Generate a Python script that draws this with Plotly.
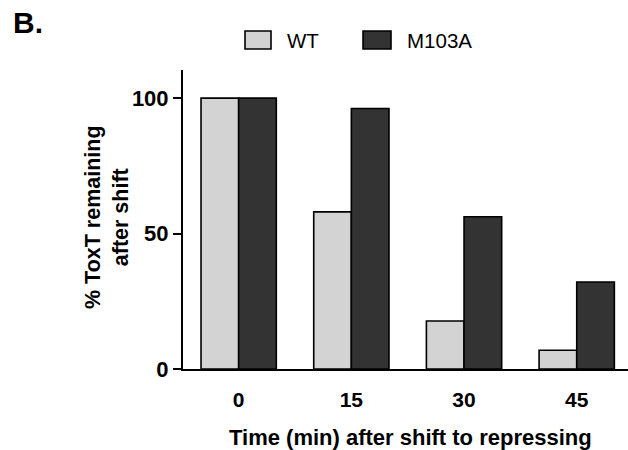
import plotly.graph_objects as go

# ---- data ----
time_labels = ["0", "15", "30", "45"]
series_names = ["WT", "M103A"]
wt_values = [100, 58, 17.7, 6.9]
m103a_values = [100, 96.2, 56.2, 32.1]
y_ticks = [0, 50, 100]

FONT = "Arial, 'Liberation Sans', sans-serif"
colors = ["#d3d3d3", "#333333"]

W, H = 628, 450
ML, MR, MT, MB = 183, 0, 70, 81
PW = W - ML - MR
PH = H - MT - MB

def px(x):
    return (x - ML) / PW

def py(y):
    return (H - MB - y) / PH

xpos = list(range(len(time_labels)))

fig = go.Figure()
for name, vals, col in zip(series_names, [wt_values, m103a_values], colors):
    fig.add_trace(go.Bar(
        x=xpos, y=vals, name=name,
        marker=dict(color=col, line=dict(color="black", width=1.6)),
        showlegend=False,
    ))

fig.update_layout(
    width=W, height=H,
    margin=dict(l=ML, r=MR, t=MT, b=MB),
    paper_bgcolor="white", plot_bgcolor="white",
    barmode="group", bargap=0.332, bargroupgap=0,
    font=dict(family=FONT, color="black"),
)

fig.update_xaxes(
    range=[-0.494, 3.455],
    tickvals=xpos, ticktext=time_labels,
    showline=True, linecolor="black", linewidth=2,
    ticks="", showgrid=False, zeroline=False,
    tickfont=dict(family=FONT, size=21, weight="bold", color="black"),
    ticklabelstandoff=11,
)
fig.update_yaxes(
    range=[0, 110.4],
    tickvals=y_ticks,
    showline=True, linecolor="black", linewidth=2,
    ticks="outside", ticklen=8, tickwidth=2, tickcolor="black",
    showgrid=False, zeroline=False,
    tickfont=dict(family=FONT, size=22, weight="bold", color="black"),
)

annotations = [
    dict(text="<b>B.</b>", x=px(11), y=py(22), xref="paper", yref="paper",
         xanchor="left", yanchor="middle", showarrow=False,
         font=dict(family=FONT, size=30, color="black")),
    dict(text="<b>% ToxT remaining<br>after shift</b>", x=px(107), y=py(217),
         xref="paper", yref="paper", xanchor="center", yanchor="middle",
         textangle=-90, showarrow=False,
         font=dict(family=FONT, size=21.5, color="black")),
    dict(text="<b>Time (min) after shift to repressing</b>", x=px(410), y=py(437),
         xref="paper", yref="paper", xanchor="center", yanchor="middle",
         showarrow=False, font=dict(family=FONT, size=22, color="black")),
]

# legend (drawn manually to match reference style)
legend_boxes = [(245, 271), (363, 391)]
legend_text_x = [285, 405]
shapes = []
for (x0, x1), tx, name, col in zip(legend_boxes, legend_text_x, series_names, colors):
    shapes.append(dict(type="rect", xref="paper", yref="paper",
                       x0=px(x0), x1=px(x1), y0=py(49), y1=py(31),
                       fillcolor=col, line=dict(color="black", width=1.6)))
    annotations.append(dict(text=name, x=px(tx), y=py(40), xref="paper", yref="paper",
                            xanchor="left", yanchor="middle", showarrow=False,
                            font=dict(family=FONT, size=20.5, color="black")))

fig.update_layout(annotations=annotations, shapes=shapes)

fig.write_html("out.html")
